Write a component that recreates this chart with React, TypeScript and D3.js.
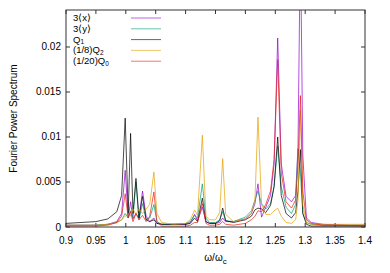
import * as d3 from "d3";
import { useEffect, useRef } from "react";

// frequency grid (omega / omega_c)
const freq = [
  0.9, 0.95, 0.97, 0.985, 0.993, 0.999, 1.004, 1.008, 1.012, 1.017,
  1.022, 1.028, 1.034, 1.04, 1.047, 1.052, 1.06, 1.08, 1.1, 1.108,
  1.115, 1.12, 1.128, 1.134, 1.14, 1.15, 1.157, 1.162, 1.167, 1.18,
  1.2, 1.21, 1.216, 1.221, 1.227, 1.234, 1.242, 1.248, 1.254, 1.26,
  1.268, 1.277, 1.284, 1.288, 1.292, 1.296, 1.302, 1.31, 1.33, 1.36, 1.4,
];

// power values, in units of 1e-3
const xMoment = [
  0.2, 0.2, 0.3, 0.6, 1.5, 6.3, 1.0, 2.8, 0.9, 1.5,
  1.0, 4.0, 1.2, 0.6, 1.0, 0.4, 0.3, 0.3, 0.3, 0.5,
  1.4, 0.7, 2.2, 0.6, 0.4, 0.4, 0.5, 1.0, 0.6, 0.6,
  0.9, 1.5, 2.6, 4.8, 1.1, 2.2, 3.5, 7.0, 21.0, 7.0,
  3.4, 2.8, 3.5, 9.0, 32.0, 8.0, 1.0, 0.5, 0.3, 0.2, 0.2,
];
const yMoment = [
  0.2, 0.2, 0.3, 0.5, 0.8, 1.5, 1.0, 1.8, 1.0, 5.0,
  0.8, 2.6, 0.8, 1.0, 2.5, 0.6, 0.3, 0.3, 0.4, 0.6,
  1.3, 1.0, 4.8, 1.0, 0.5, 0.5, 0.8, 1.7, 0.7, 0.6,
  1.1, 1.8, 3.0, 4.0, 2.6, 2.0, 2.6, 4.5, 9.0, 4.5,
  2.2, 1.5, 2.5, 8.7, 6.0, 1.5, 0.5, 0.3, 0.2, 0.2, 0.2,
];
const q1 = [
  0.4, 0.6, 0.9, 1.7, 3.5, 12.1, 1.5, 10.4, 1.5, 5.4,
  1.0, 3.4, 0.8, 0.6, 0.8, 0.4, 0.3, 0.3, 0.3, 0.4,
  1.0, 0.6, 3.2, 0.6, 0.4, 0.4, 0.7, 2.1, 0.7, 0.5,
  0.8, 1.2, 1.9, 2.1, 2.0, 1.6, 2.4, 4.5, 10.0, 3.5,
  1.5, 1.0, 1.6, 4.0, 8.6, 1.5, 0.3, 0.1, 0.1, 0.1, 0.1,
];
const q2 = [
  0.2, 0.2, 0.3, 0.5, 0.8, 1.2, 1.5, 1.2, 2.0, 1.4,
  2.0, 1.5, 2.0, 2.5, 6.1, 1.5, 0.5, 0.3, 0.4, 0.8,
  1.9, 1.3, 10.2, 1.2, 0.8, 0.8, 1.6, 7.6, 1.4, 0.6,
  0.9, 1.5, 3.0, 12.2, 2.5, 1.4, 1.4, 1.8, 2.1, 1.2,
  0.5, 0.4, 0.8, 3.0, 13.0, 2.5, 0.5, 0.3, 0.3, 0.3, 0.3,
];
const q0 = [
  0.1, 0.1, 0.2, 0.5, 1.2, 3.7, 1.0, 1.7, 0.6, 1.5,
  0.8, 1.3, 0.6, 1.2, 3.9, 0.6, 0.1, 0.1, 0.1, 0.2,
  0.5, 0.5, 2.6, 0.4, 0.2, 0.2, 0.3, 0.6, 0.3, 0.2,
  0.4, 0.8, 1.2, 1.8, 1.7, 2.5, 4.0, 7.5, 18.6, 6.0,
  2.8, 2.1, 3.0, 7.0, 14.6, 4.0, 0.8, 0.4, 0.2, 0.2, 0.1,
];

const seriesNames = ["3\u27E8x\u27E9", "3\u27E8y\u27E9", "Q1", "(1/8)Q2", "(1/20)Q0"];
const seriesValues = [xMoment, yMoment, q1, q2, q0];
const seriesColors = ["#9400d3", "#009e73", "#000000", "#e69f00", "#e51e10"];

const xTicks = [0.9, 0.95, 1, 1.05, 1.1, 1.15, 1.2, 1.25, 1.3, 1.35, 1.4];
const yTicks = [0, 0.005, 0.01, 0.015, 0.02];

const App = () => {
  const ref = useRef<SVGSVGElement>(null);

  useEffect(() => {
    const svg = d3.select(ref.current);
    svg.selectAll("*").remove();

    const width = 390;
    const height = 273;
    const margin = { top: 10, right: 25, bottom: 46, left: 66 };
    const innerWidth = width - margin.left - margin.right;
    const innerHeight = height - margin.top - margin.bottom;
    const font = "'Liberation Sans', Arial, sans-serif";

    const g = svg
      .append("g")
      .attr("transform", `translate(${margin.left},${margin.top})`);

    const x = d3.scaleLinear().domain([0.9, 1.4]).range([0, innerWidth]);
    const y = d3.scaleLinear().domain([0, 0.02411]).range([innerHeight, 0]);

    // рамка и засечки
    const tick = 4;
    xTicks.forEach((t) => {
      g.append("line").attr("x1", x(t)).attr("x2", x(t))
        .attr("y1", innerHeight).attr("y2", innerHeight - tick)
        .attr("stroke", "#333");
      g.append("line").attr("x1", x(t)).attr("x2", x(t))
        .attr("y1", 0).attr("y2", tick)
        .attr("stroke", "#333");
      g.append("text")
        .attr("x", x(t)).attr("y", innerHeight + 17)
        .attr("text-anchor", "middle")
        .attr("font-family", font).attr("font-size", 10)
        .text(String(t));
    });
    yTicks.forEach((t) => {
      g.append("line").attr("x1", 0).attr("x2", tick)
        .attr("y1", y(t)).attr("y2", y(t))
        .attr("stroke", "#333");
      g.append("line").attr("x1", innerWidth).attr("x2", innerWidth - tick)
        .attr("y1", y(t)).attr("y2", y(t))
        .attr("stroke", "#333");
      g.append("text")
        .attr("x", -5).attr("y", y(t) + 3.5)
        .attr("text-anchor", "end")
        .attr("font-family", font).attr("font-size", 10)
        .text(String(t));
    });

    g.append("defs").append("clipPath").attr("id", "plotclip")
      .append("rect").attr("width", innerWidth).attr("height", innerHeight);

    const line = d3.line<number>()
      .x((_, i) => x(freq[i]))
      .y((d) => y(d / 1000));

    const plot = g.append("g").attr("clip-path", "url(#plotclip)");
    seriesValues.forEach((vals, k) => {
      plot.append("path")
        .datum(vals)
        .attr("d", line)
        .attr("fill", "none")
        .attr("stroke", seriesColors[k])
        .attr("stroke-opacity", 0.7)
        .attr("stroke-width", 1);
    });

    g.append("rect")
      .attr("width", innerWidth).attr("height", innerHeight)
      .attr("fill", "none").attr("stroke", "#333").attr("stroke-width", 1);

    // легенда
    const leg = g.append("g").attr("transform", "translate(7,8)");
    seriesNames.forEach((name, k) => {
      const row = leg.append("g").attr("transform", `translate(0,${k * 10.8})`);
      const txt = row.append("text")
        .attr("y", 3)
        .attr("font-family", font).attr("font-size", 9.5);
      const m = name.match(/^(.*Q)(\d)$/);
      if (m) {
        txt.append("tspan").text(m[1]);
        txt.append("tspan").attr("dy", 1.5).attr("font-size", 6.5).text(m[2]);
      } else {
        txt.text(name);
      }
      row.append("line")
        .attr("x1", 58).attr("x2", 88)
        .attr("stroke", seriesColors[k])
        .attr("stroke-opacity", 0.6)
        .attr("stroke-width", 1);
    });

    // подписи осей
    const xl = g.append("text")
      .attr("x", innerWidth / 2).attr("y", innerHeight + 34)
      .attr("text-anchor", "middle")
      .attr("font-family", font).attr("font-size", 10);
    xl.append("tspan").text("\u03C9/\u03C9");
    xl.append("tspan").attr("dy", 3).attr("font-size", 8).text("c");

    g.append("text")
      .attr("transform", "rotate(-90)")
      .attr("x", -innerHeight / 2).attr("y", -margin.left + 17)
      .attr("text-anchor", "middle")
      .attr("font-family", font).attr("font-size", 10)
      .text("Fourier Power Spectrum");
  }, []);

  return (
    <svg
      ref={ref}
      width={390}
      height={273}
      style={{ position: "absolute", left: 0, top: 0, background: "#fff" }}
    />
  );
};

export default App;
